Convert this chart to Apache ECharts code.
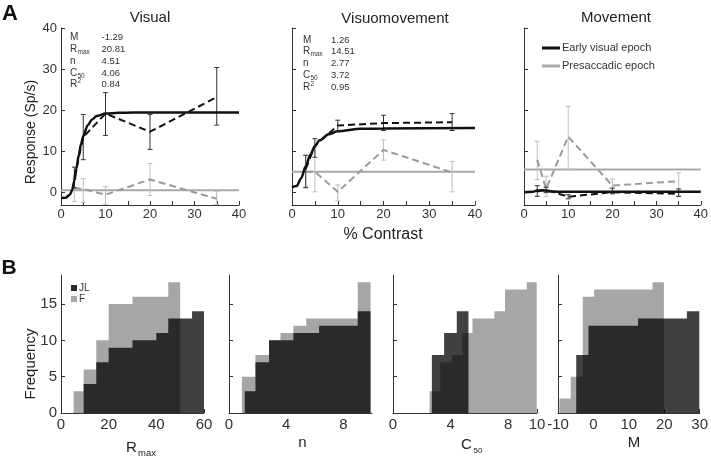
<!DOCTYPE html>
<html><head><meta charset="utf-8">
<script src="https://cdn.jsdelivr.net/npm/echarts@6/dist/echarts.min.js"></script>
<style>html,body{margin:0;padding:0;background:#fff}#c{width:711px;height:458px}</style>
</head><body><div id="c"></div>
<script>
// ---------- data: panel A (contrast response) ----------
const contrast = [3, 5, 10, 20, 35];
const xTicksTop = [0, 10, 20, 30, 40];
const xMinorTop = [0, 5, 10, 15, 20, 25, 30, 35, 40];
const yTicksTop = [0, 10, 20, 30, 40];

const visEarly   = [3.7, 13.5, 19.2, 14.8, 23.2];
const visEarlyLo = [1.2, 8.0, 13.9, 10.5, 16.4];
const visEarlyHi = [6.2, 19.0, 24.3, 19.0, 30.4];
const visPre     = [1.1, 0.9, -0.5, 3.2, -1.5];
const visPreLo   = [-2.1, -2.4, -2.9, -0.7, -2.9];
const visPreHi   = [3.4, 3.4, 1.5, 7.1, 0.3];
const visFitC    = [0, 1, 2, 2.5, 3, 3.5, 4, 4.5, 5, 6, 7, 8, 10, 13, 20, 40];
const visFitR    = [-1.3, -1.25, -0.5, 0.6, 2.9, 6, 9.2, 11.8, 13.7, 16.4, 17.8, 18.6, 19.2, 19.4, 19.5, 19.5];
const visPreLevel = [0.6, 0.6];

const vmEarly    = [5.7, 11.4, 16.3, 16.9, 17.1];
const vmEarlyLo  = [1.2, 8.6, 14.9, 15.1, 15.1];
const vmEarlyHi  = [9.1, 13.1, 17.6, 18.8, 19.2];
const vmPre      = [5.1, 5.1, 0.2, 10.4, 4.9];
const vmPreLo    = [1.4, 0.2, -2.0, 7.9, 0.2];
const vmPreHi    = [9.0, 11.0, 1.9, 12.8, 7.6];
const vmFitC     = [0, 1, 2, 3, 4, 5, 6, 8, 10, 15, 20, 40];
const vmFitR     = [1.3, 1.6, 3.5, 6.4, 9.2, 11.3, 12.7, 14.2, 14.9, 15.5, 15.6, 15.7];
const vmPreLevel = [5.1, 5.1];

const movEarly   = [0.3, 0.7, -1.0, 0.1, -0.3];
const movEarlyLo = [-0.9, 0.0, -1.5, -0.3, -0.9];
const movEarlyHi = [1.7, 1.3, -0.5, 1.1, 0.9];
const movPre     = [8.0, 0.9, 13.6, 1.7, 2.8];
const movPreLo   = [3.2, -0.9, 5.6, -0.2, -0.9];
const movPreHi   = [12.5, 4.0, 20.9, 3.3, 4.8];
const movFitC    = [0, 2, 3, 4, 5, 6, 8, 40];
const movFitR    = [0.1, 0.2, 0.5, 0.6, 0.5, 0.3, 0.2, 0.2];
const movPreLevel = [5.6, 5.6];

const statNames = ['M', 'R', 'n', 'C', 'R'];
const statSubs  = ['', 'max', '', '50', '2'];
const visStats  = ['-1.29', '20.81', '4.51', '4.06', '0.84'];
const vmStats   = ['1.26', '14.51', '2.77', '3.72', '0.95'];

// ---------- data: panel B (cumulative histograms) ----------
const yTicksBottom = [0, 5, 10, 15];
const rmaxTicks = [0, 20, 40, 60];
const nTicks    = [0, 4, 8];
const c50Ticks  = [0, 4, 8, 10];
const mTicks    = [-10, 0, 10, 20, 30];

const rmaxFEdges  = [5.3, 9.5, 14.8, 20, 30, 45, 50];
const rmaxFCounts = [3, 6, 10, 15, 16, 18];
const rmaxJLEdges  = [9.5, 14.8, 20, 30, 40, 45, 55, 60];
const rmaxJLCounts = [4, 7, 9, 10, 11, 13, 14];

const nFEdges  = [0.9, 1.85, 2.8, 3.6, 4.5, 5.4, 9.0, 9.9];
const nFCounts = [5, 8, 10, 11, 12, 13, 18];
const nJLEdges  = [1.1, 1.85, 2.8, 4.5, 6.3, 9.0, 9.9];
const nJLCounts = [3, 7, 10, 11, 12, 14];

const c50FEdges  = [2.54, 3.28, 4.09, 4.83, 5.52, 7.04, 7.78, 9.29, 9.98];
const c50FCounts = [3, 7, 8, 11, 13, 14, 17, 18];
const c50JLEdges  = [2.7, 3.55, 4.43, 5.24];
const c50JLCounts = [8, 11, 14];

const mFEdges  = [-9.6, -6.4, -3.0, 0.2, 16.7, 19.9];
const mFCounts = [2, 5, 16, 17, 18];
const mJLEdges  = [-4.85, -1.4, 12.6, 26.4, 29.9];
const mJLCounts = [8, 12, 13, 14];

// ---------- chart ----------
const FONT = '"Liberation Sans", Arial, sans-serif';
const AX = '#333';
const chart = echarts.init(document.getElementById('c'), null, {renderer: 'canvas'});

const grids = [
  {left: 61, width: 178, top: 28, height: 177},
  {left: 292, width: 183, top: 28, height: 177},
  {left: 524, width: 179, top: 28, height: 177},
  {left: 61, width: 143, top: 275, height: 138},
  {left: 229, width: 143, top: 275, height: 138},
  {left: 393, width: 144, top: 275, height: 138},
  {left: 558, width: 145, top: 275, height: 138}
];

function xAx(g, min, max, labels, ticks, fs, margin) {
  return {type: 'value', gridIndex: g, min: min, max: max,
    axisLine: {show: true, onZero: false, lineStyle: {color: AX, width: 1}},
    axisTick: {show: true, inside: true, length: 4, customValues: ticks, lineStyle: {color: AX}},
    axisLabel: {show: true, customValues: labels, fontSize: fs, color: '#333', fontFamily: FONT, margin: margin},
    splitLine: {show: false}};
}
function yAx(g, min, max, ticks, showLabel, fs) {
  return {type: 'value', gridIndex: g, min: min, max: max,
    axisLine: {show: true, onZero: false, lineStyle: {color: AX, width: 1}},
    axisTick: {show: true, inside: true, length: 4, customValues: ticks, lineStyle: {color: AX}},
    axisLabel: {show: showLabel, customValues: ticks, fontSize: fs, color: '#333', fontFamily: FONT, margin: 4},
    splitLine: {show: false}};
}

const xAxes = [
  xAx(0, 0, 40, xTicksTop, xMinorTop, 13, 3),
  xAx(1, 0, 40, xTicksTop, xMinorTop, 13, 3),
  xAx(2, 0, 40, xTicksTop, xMinorTop, 13, 3),
  xAx(3, 0, 60, rmaxTicks, rmaxTicks, 15, 4),
  xAx(4, 0, 10, nTicks, nTicks, 15, 4),
  xAx(5, 0, 10, c50Ticks, c50Ticks, 15, 4),
  xAx(6, -10, 30, mTicks, mTicks, 15, 4)
];
const yAxes = [
  yAx(0, -3, 40, yTicksTop, true, 13),
  yAx(1, -3, 40, yTicksTop, false, 13),
  yAx(2, -3, 40, yTicksTop, false, 13),
  yAx(3, 0, 19, yTicksBottom, true, 15),
  yAx(4, 0, 19, yTicksBottom, false, 15),
  yAx(5, 0, 19, yTicksBottom, false, 15),
  yAx(6, 0, 19, yTicksBottom, false, 15)
];

function pairs(xs, ys) { return xs.map((x, i) => [x, ys[i]]); }
function errRender(params, api) {
  const x = api.value(0), lo = api.value(1), hi = api.value(2);
  const p1 = api.coord([x, lo]), p2 = api.coord([x, hi]);
  const st = {stroke: api.visual('color'), lineWidth: 1};
  const c = 2.5;
  return {type: 'group', children: [
    {type: 'line', shape: {x1: p1[0], y1: p1[1], x2: p2[0], y2: p2[1]}, style: st},
    {type: 'line', shape: {x1: p1[0] - c, y1: p1[1], x2: p1[0] + c, y2: p1[1]}, style: st},
    {type: 'line', shape: {x1: p2[0] - c, y1: p2[1], x2: p2[0] + c, y2: p2[1]}, style: st}
  ]};
}

const series = [];
function topPanel(g, early, eLo, eHi, pre, pLo, pHi, fitC, fitR, preLevel, fitName, preName) {
  series.push({type: 'line', name: preName, xAxisIndex: g, yAxisIndex: g, data: pairs([0, 40], preLevel),
    showSymbol: false, symbol: 'none', color: '#a9a9a9', lineStyle: {color: '#a9a9a9', width: 2}, z: 2});
  series.push({type: 'custom', name: 'pre-err' + g, xAxisIndex: g, yAxisIndex: g, renderItem: errRender,
    data: contrast.map((c, i) => [c, pLo[i], pHi[i]]), encode: {x: 0, y: [1, 2]},
    itemStyle: {color: '#bdbdbd'}, z: 3, silent: true});
  series.push({type: 'line', name: 'pre-data' + g, xAxisIndex: g, yAxisIndex: g, data: pairs(contrast, pre),
    showSymbol: false, symbol: 'none', lineStyle: {color: '#9a9a9a', width: 2, type: [7, 4]}, z: 4});
  series.push({type: 'custom', name: 'early-err' + g, xAxisIndex: g, yAxisIndex: g, renderItem: errRender,
    data: contrast.map((c, i) => [c, eLo[i], eHi[i]]), encode: {x: 0, y: [1, 2]},
    itemStyle: {color: '#333'}, z: 5, silent: true});
  series.push({type: 'line', name: 'early-data' + g, xAxisIndex: g, yAxisIndex: g, data: pairs(contrast, early),
    showSymbol: false, symbol: 'none', lineStyle: {color: '#111', width: 2, type: [7, 4]}, z: 6});
  series.push({type: 'line', name: fitName, xAxisIndex: g, yAxisIndex: g, data: pairs(fitC, fitR),
    showSymbol: false, symbol: 'none', smooth: 0.3, smoothMonotone: 'x', color: '#111',
    lineStyle: {color: '#111', width: 2.5}, z: 7});
}
topPanel(0, visEarly, visEarlyLo, visEarlyHi, visPre, visPreLo, visPreHi, visFitC, visFitR, visPreLevel, 'vis-fit', 'vis-pre');
topPanel(1, vmEarly, vmEarlyLo, vmEarlyHi, vmPre, vmPreLo, vmPreHi, vmFitC, vmFitR, vmPreLevel, 'vm-fit', 'vm-pre');
topPanel(2, movEarly, movEarlyLo, movEarlyHi, movPre, movPreLo, movPreHi, movFitC, movFitR, movPreLevel, 'Early visual epoch', 'Presaccadic epoch');

function stepData(edges, counts) { return edges.map((e, i) => [e, i < counts.length ? counts[i] : 0]); }
function histPanel(g, fE, fC, jE, jC) {
  series.push({type: 'line', name: 'F', xAxisIndex: g, yAxisIndex: g, data: stepData(fE, fC), step: 'end',
    showSymbol: false, symbol: 'none', color: '#a6a6a6', lineStyle: {width: 0, opacity: 0},
    areaStyle: {color: '#a6a6a6', opacity: 1}, z: 2});
  series.push({type: 'line', name: 'JL', xAxisIndex: g, yAxisIndex: g, data: stepData(jE, jC), step: 'end',
    showSymbol: false, symbol: 'none', color: '#2a2a2a', lineStyle: {width: 0, opacity: 0},
    areaStyle: {color: 'rgba(0,0,0,0.75)', opacity: 1}, z: 3});
}
histPanel(3, rmaxFEdges, rmaxFCounts, rmaxJLEdges, rmaxJLCounts);
histPanel(4, nFEdges, nFCounts, nJLEdges, nJLCounts);
histPanel(5, c50FEdges, c50FCounts, c50JLEdges, c50JLCounts);
histPanel(6, mFEdges, mFCounts, mJLEdges, mJLCounts);

// ---------- text ----------
const graphic = [];
function txt(x, y, s, size, opts) {
  opts = opts || {};
  graphic.push({type: 'text', x: x, y: y, rotation: opts.rot || 0, silent: true,
    style: {text: s, fill: opts.color || '#222', font: (opts.weight || 'normal') + ' ' + size + 'px ' + FONT,
      textAlign: opts.align || 'center', textVerticalAlign: 'middle', align: opts.align || 'center', verticalAlign: 'middle'}});
}
txt(10, 14, 'A', 22, {weight: 'bold', color: '#111'});
txt(9, 268, 'B', 21, {weight: 'bold', color: '#111'});
txt(150, 18, 'Visual', 15);
txt(395, 19, 'Visuomovement', 15);
txt(616, 18, 'Movement', 15);
txt(383, 235, '% Contrast', 16);
txt(31, 132, 'Response (Sp/s)', 14, {rot: Math.PI / 2});
txt(31, 364, 'Frequency', 15, {rot: Math.PI / 2});

function stats(lx, vx, rows, vals) {
  for (let i = 0; i < statNames.length; i++) {
    txt(lx, rows[i], statNames[i], 10, {align: 'left', color: '#333'});
    if (statSubs[i]) {
      const sup = statSubs[i] === '2';
      txt(lx + 7.5, rows[i] + (sup ? -3 : 3), statSubs[i], 6.5, {align: 'left', color: '#333'});
    }
    txt(vx, rows[i], vals[i], 9.5, {align: 'left', color: '#333'});
  }
}
stats(70, 101.5, [37.5, 49.5, 61.5, 73, 84.5], visStats);
stats(303, 331, [40, 51.5, 63.5, 75, 87], vmStats);

txt(131.5, 448, 'R', 15);
txt(138, 453, 'max', 9.5, {align: 'left'});
txt(302.5, 442.5, 'n', 15);
txt(466.5, 444.5, 'C', 15);
txt(473.5, 450.5, '50', 8, {align: 'left'});
txt(634, 443, 'M', 15);

const option = {
  animation: false,
  backgroundColor: '#fff',
  grid: grids,
  xAxis: xAxes,
  yAxis: yAxes,
  legend: [
    {orient: 'vertical', left: 537, top: 37, itemWidth: 18, itemHeight: 3, itemGap: 6, icon: 'rect',
     selectedMode: false, textStyle: {fontSize: 11, fontFamily: FONT, color: '#333', lineHeight: 12, padding: [0, 0, 0, -3]},
     data: [{name: 'Early visual epoch', itemStyle: {color: '#111'}},
            {name: 'Presaccadic epoch', itemStyle: {color: '#a9a9a9'}}]},
    {orient: 'vertical', left: 66, top: 278, itemWidth: 6, itemHeight: 6, itemGap: 1, icon: 'rect',
     selectedMode: false, textStyle: {fontSize: 10, fontFamily: FONT, color: '#333', lineHeight: 9, padding: [0, 0, 0, -3]},
     data: [{name: 'JL', itemStyle: {color: '#2a2a2a'}}, {name: 'F', itemStyle: {color: '#a6a6a6'}}]}
  ],
  graphic: graphic,
  series: series
};
chart.setOption(option);
</script>
</body></html>
